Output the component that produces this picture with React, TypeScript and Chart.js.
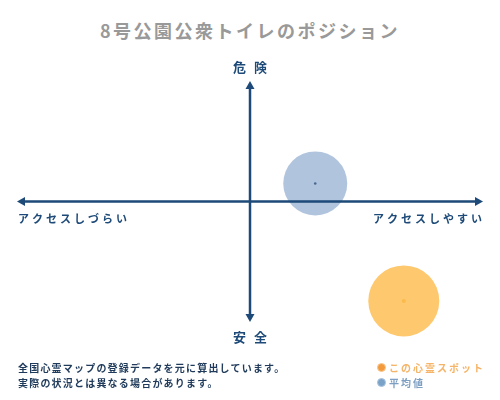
import React, { useEffect, useRef } from 'react';
import { Chart, registerables } from 'chart.js';
import type { ChartConfiguration, Plugin } from 'chart.js';

Chart.register(...registerables);

const TITLE = '8号公園公衆トイレのポジション';
const AXIS_LABELS = { top: '危険', bottom: '安全', left: 'アクセスしづらい', right: 'アクセスしやすい' };

// this spot vs. national average (x: access, y: danger), bubble radius in px
const SPOT_POINT = [0.66, -0.825];
const SPOT_RADIUS = 35.5;
const AVG_POINT = [0.28, 0.15];
const AVG_RADIUS = 32;

const LEGEND_LABELS = ['この心霊スポット', '平均値'];
const NOTE_LINES = ['全国心霊マップの登録データを元に算出しています。', '実際の状況とは異なる場合があります。'];

const NAVY = '#1d4a78';
const FONT = '"Noto Sans CJK JP", "Noto Sans", sans-serif';

const axesPlugin: Plugin = {
  id: 'quadrantAxes',
  afterDatasetsDraw(chart) {
    const { ctx, chartArea, scales } = chart;
    const cx = scales.x.getPixelForValue(0);
    const cy = scales.y.getPixelForValue(0);
    const { left, right, top, bottom } = chartArea;
    ctx.save();
    ctx.strokeStyle = NAVY;
    ctx.fillStyle = NAVY;
    ctx.lineWidth = 2.5;
    ctx.beginPath();
    ctx.moveTo(left + 4, cy);
    ctx.lineTo(right - 4, cy);
    ctx.moveTo(cx, top + 4);
    ctx.lineTo(cx, bottom - 4);
    ctx.stroke();

    const head = (x: number, y: number, dx: number, dy: number) => {
      const len = 8;
      const w = 4.5;
      ctx.beginPath();
      ctx.moveTo(x, y);
      ctx.lineTo(x - dx * len - dy * w, y - dy * len - dx * w);
      ctx.lineTo(x - dx * len + dy * w, y - dy * len + dx * w);
      ctx.closePath();
      ctx.fill();
    };
    head(left, cy, -1, 0);
    head(right, cy, 1, 0);
    head(cx, top, 0, -1);
    head(cx, bottom, 0, 1);

    ctx.font = `bold 11px ${FONT}`;
    ctx.textBaseline = 'middle';
    (ctx as any).letterSpacing = '3px';
    ctx.textAlign = 'left';
    ctx.fillText(AXIS_LABELS.left, left + 1, cy + 17);
    ctx.textAlign = 'right';
    ctx.fillText(AXIS_LABELS.right, right + 2, cy + 17);

    ctx.font = `bold 13px ${FONT}`;
    (ctx as any).letterSpacing = '8px';
    ctx.textAlign = 'center';
    ctx.fillText(AXIS_LABELS.top, cx + 4, top - 14);
    ctx.fillText(AXIS_LABELS.bottom, cx + 4, bottom + 15);
    ctx.restore();
  },
};

const App: React.FC = () => {
  const chartRef = useRef<HTMLCanvasElement>(null);
  const chartInstanceRef = useRef<Chart | null>(null);

  useEffect(() => {
    if (!chartRef.current) return;
    if (chartInstanceRef.current) chartInstanceRef.current.destroy();

    const config: ChartConfiguration = {
      type: 'bubble',
      data: {
        datasets: [
          {
            label: LEGEND_LABELS[1],
            data: [{ x: AVG_POINT[0], y: AVG_POINT[1], r: AVG_RADIUS }],
            backgroundColor: 'rgba(112, 148, 194, 0.55)',
            borderWidth: 0,
            clip: false,
          },
          {
            label: LEGEND_LABELS[0],
            data: [{ x: SPOT_POINT[0], y: SPOT_POINT[1], r: SPOT_RADIUS }],
            backgroundColor: 'rgba(253, 190, 85, 0.85)',
            borderWidth: 0,
            clip: false,
          },
          {
            type: 'scatter',
            label: 'avg-center',
            data: [{ x: AVG_POINT[0], y: AVG_POINT[1] }],
            backgroundColor: '#1d3350',
            pointRadius: 1.3,
            borderWidth: 0,
          } as any,
          {
            type: 'scatter',
            label: 'spot-center',
            data: [{ x: SPOT_POINT[0], y: SPOT_POINT[1] }],
            backgroundColor: '#f0a01e',
            pointRadius: 2,
            borderWidth: 0,
          } as any,
        ],
      },
      options: {
        responsive: false,
        animation: false,
        layout: { autoPadding: false, padding: { top: 81, bottom: 78, left: 17, right: 17 } },
        plugins: {
          legend: { display: false },
          tooltip: { enabled: false },
          title: { display: false },
        },
        scales: {
          x: { type: 'linear', min: -1, max: 1, display: false },
          y: { type: 'linear', min: -1, max: 1, display: false },
        },
      },
      plugins: [axesPlugin],
    };

    chartInstanceRef.current = new Chart(chartRef.current, config);

    return () => {
      if (chartInstanceRef.current) {
        chartInstanceRef.current.destroy();
        chartInstanceRef.current = null;
      }
    };
  }, []);

  return (
    <div style={{ position: 'fixed', left: 0, top: 0, width: 500, height: 400, background: '#fff', fontFamily: FONT }}>
      <div
        style={{
          position: 'absolute', top: 17, left: 0, width: 500, textAlign: 'center',
          fontSize: 18, fontWeight: 'bold', color: '#999', letterSpacing: 2.5, lineHeight: '26px',
        }}
      >
        {TITLE}
      </div>
      <canvas ref={chartRef} width={500} height={400} style={{ position: 'absolute', left: 0, top: 0 }} />
      <div
        style={{
          position: 'absolute', left: 18, top: 360, fontSize: 10, fontWeight: 'bold',
          color: '#1f3a5a', letterSpacing: 1.2, lineHeight: '15px',
        }}
      >
        {NOTE_LINES.map((line) => <div key={line}>{line}</div>)}
      </div>
      <div style={{ position: 'absolute', left: 377, top: 360, fontSize: 10, fontWeight: 'bold', letterSpacing: 2, lineHeight: '15px' }}>
        <div style={{ color: '#f5b468', display: 'flex', alignItems: 'center' }}>
          <span style={{ width: 9, height: 9, borderRadius: '50%', background: '#f29a3c', border: '1px solid #f8c890', boxSizing: 'border-box', marginRight: 3 }} />
          {LEGEND_LABELS[0]}
        </div>
        <div style={{ color: '#7d9fc2', display: 'flex', alignItems: 'center' }}>
          <span style={{ width: 9, height: 9, borderRadius: '50%', background: '#7aa2c8', border: '1px solid #a8c4de', boxSizing: 'border-box', marginRight: 3 }} />
          {LEGEND_LABELS[1]}
        </div>
      </div>
    </div>
  );
};

export default App;
